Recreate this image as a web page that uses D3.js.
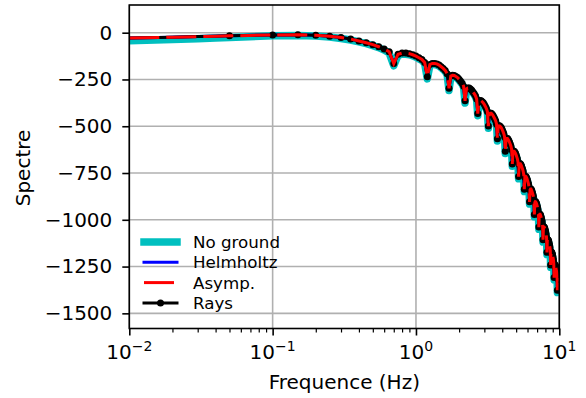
<!DOCTYPE html>
<html><head><meta charset="utf-8">
<script src="https://cdn.jsdelivr.net/npm/d3@7"></script>
<style>
body{margin:0;background:#fff}
svg{display:block}
text{font-family:"DejaVu Sans",sans-serif;fill:#000}
</style>
</head><body>
<svg id="chart" width="586" height="398"></svg>
<script>
const freq = [0.01,0.02,0.03,0.04,
0.05,0.10,0.15,0.20,0.25,0.30,0.35,0.40,0.45,0.50,
0.55,0.60,0.65,0.70,0.75,0.80,0.85,0.90,0.95,1.00,
1.05,1.10,1.15,1.20,1.25,1.30,1.35,1.40,1.45,1.50,
1.55,1.60,1.65,1.70,1.75,1.80,1.85,1.90,1.95,2.00,
2.05,2.10,2.15,2.20,2.25,2.30,2.35,2.40,2.45,2.50,
2.55,2.60,2.65,2.70,2.75,2.80,2.85,2.90,2.95,3.00,
3.05,3.10,3.15,3.20,3.25,3.30,3.35,3.40,3.45,3.50,
3.55,3.60,3.65,3.70,3.75,3.80,3.85,3.90,3.95,4.00,
4.05,4.10,4.15,4.20,4.25,4.30,4.35,4.40,4.45,4.50,
4.55,4.60,4.65,4.70,4.75,4.80,4.85,4.90,4.95,5.00,
5.05,5.10,5.15,5.20,5.25,5.30,5.35,5.40,5.45,5.50,
5.55,5.60,5.65,5.70,5.75,5.80,5.85,5.90,5.95,6.00,
6.05,6.10,6.15,6.20,6.25,6.30,6.35,6.40,6.45,6.50,
6.55,6.60,6.65,6.70,6.75,6.80,6.85,6.90,6.95,7.00,
7.05,7.10,7.15,7.20,7.25,7.30,7.35,7.40,7.45,7.50,
7.55,7.60,7.65,7.70,7.75,7.80,7.85,7.90,7.95,8.00,
8.05,8.10,8.15,8.20,8.25,8.30,8.35,8.40,8.45,8.50,
8.55,8.60,8.65,8.70,8.75,8.80,8.85,8.90,8.95,9.00,
9.05,9.10,9.15,9.20,9.25,9.30,9.35,9.40,9.45,9.50,
9.55,9.60,9.65,9.70,9.75,9.80,9.85,9.90,9.95,10.00];

const noGround = [-43,-37,-33,-29,
-26,-17,-15,-18,-23,-31,-39,-49,-59,-69,
-80,-93,-108,-177,-121,-115,-115,-118,-124,-131,
-140,-149,-165,-247,-176,-170,-170,-173,-179,-188,
-197,-208,-225,-309,-238,-234,-235,-240,-246,-255,
-265,-276,-292,-376,-306,-302,-302,-307,-314,-323,
-332,-343,-360,-444,-373,-369,-370,-375,-381,-390,
-400,-411,-427,-511,-441,-437,-437,-442,-449,-458,
-467,-478,-495,-579,-508,-504,-505,-510,-516,-525,
-535,-546,-562,-646,-576,-572,-572,-577,-584,-593,
-602,-613,-630,-714,-643,-639,-640,-645,-651,-660,
-670,-681,-697,-781,-711,-707,-707,-712,-719,-728,
-737,-748,-765,-849,-778,-774,-775,-780,-786,-795,
-805,-816,-832,-916,-846,-842,-842,-847,-854,-863,
-872,-883,-900,-984,-913,-909,-910,-915,-921,-930,
-940,-951,-967,-1051,-981,-977,-977,-982,-989,-998,
-1007,-1018,-1035,-1119,-1048,-1044,-1045,-1050,-1056,-1065,
-1075,-1086,-1102,-1186,-1116,-1112,-1112,-1117,-1124,-1133,
-1142,-1153,-1170,-1254,-1183,-1179,-1180,-1185,-1191,-1200,
-1210,-1221,-1237,-1321,-1251,-1247,-1247,-1252,-1259,-1268,
-1277,-1288,-1305,-1389,-1318,-1314,-1315,-1320,-1326,-1335];

const helmholtz = [-29,-24,-21,-19,
-17,-12,-11,-14,-19,-26,-34,-44,-54,-64,
-75,-87,-102,-165,-115,-109,-109,-112,-118,-125,
-134,-143,-159,-235,-170,-164,-164,-167,-173,-182,
-191,-202,-219,-297,-232,-228,-229,-234,-240,-249,
-259,-270,-286,-364,-300,-296,-296,-301,-308,-317,
-326,-337,-354,-432,-367,-363,-364,-369,-375,-384,
-394,-405,-421,-499,-435,-431,-431,-436,-443,-452,
-461,-472,-489,-567,-502,-498,-499,-504,-510,-519,
-529,-540,-556,-634,-570,-566,-566,-571,-578,-587,
-596,-607,-624,-702,-637,-633,-634,-639,-645,-654,
-664,-675,-691,-769,-705,-701,-701,-706,-713,-722,
-731,-742,-759,-837,-772,-768,-769,-774,-780,-789,
-799,-810,-826,-904,-840,-836,-836,-841,-848,-857,
-866,-877,-894,-972,-907,-903,-904,-909,-915,-924,
-934,-945,-961,-1039,-975,-971,-971,-976,-983,-992,
-1001,-1012,-1029,-1107,-1042,-1038,-1039,-1044,-1050,-1059,
-1069,-1080,-1096,-1174,-1110,-1106,-1106,-1111,-1118,-1127,
-1136,-1147,-1164,-1242,-1177,-1173,-1174,-1179,-1185,-1194,
-1204,-1215,-1231,-1309,-1245,-1241,-1241,-1246,-1253,-1262,
-1271,-1282,-1299,-1377,-1312,-1308,-1309,-1314,-1320,-1329];

const asymp = [-29,-24,-21,-19,
-17,-12,-11,-14,-19,-26,-34,-44,-54,-64,
-75,-87,-102,-165,-115,-109,-109,-112,-118,-125,
-134,-143,-159,-235,-170,-164,-164,-167,-173,-182,
-191,-202,-219,-297,-232,-228,-229,-234,-240,-249,
-259,-270,-286,-364,-300,-296,-296,-301,-308,-317,
-326,-337,-354,-432,-367,-363,-364,-369,-375,-384,
-394,-405,-421,-499,-435,-431,-431,-436,-443,-452,
-461,-472,-489,-567,-502,-498,-499,-504,-510,-519,
-529,-540,-556,-634,-570,-566,-566,-571,-578,-587,
-596,-607,-624,-702,-637,-633,-634,-639,-645,-654,
-664,-675,-691,-769,-705,-701,-701,-706,-713,-722,
-731,-742,-759,-837,-772,-768,-769,-774,-780,-789,
-799,-810,-826,-904,-840,-836,-836,-841,-848,-857,
-866,-877,-894,-972,-907,-903,-904,-909,-915,-924,
-934,-945,-961,-1039,-975,-971,-971,-976,-983,-992,
-1001,-1012,-1029,-1107,-1042,-1038,-1039,-1044,-1050,-1059,
-1069,-1080,-1096,-1174,-1110,-1106,-1106,-1111,-1118,-1127,
-1136,-1147,-1164,-1242,-1177,-1173,-1174,-1179,-1185,-1194,
-1204,-1215,-1231,-1309,-1245,-1241,-1241,-1246,-1253,-1262,
-1271,-1282,-1299,-1377,-1312,-1308,-1309,-1314,-1320,-1329];

const rays = [-29,-24,-21,-19,
-17,-12,-11,-14,-19,-26,-34,-44,-54,-64,
-75,-87,-102,-165,-115,-109,-109,-112,-118,-125,
-134,-143,-159,-235,-170,-164,-164,-167,-173,-182,
-191,-202,-219,-297,-232,-228,-229,-234,-240,-249,
-259,-270,-286,-364,-300,-296,-296,-301,-308,-317,
-326,-337,-354,-432,-367,-363,-364,-369,-375,-384,
-394,-405,-421,-499,-435,-431,-431,-436,-443,-452,
-461,-472,-489,-567,-502,-498,-499,-504,-510,-519,
-529,-540,-556,-634,-570,-566,-566,-571,-578,-587,
-596,-607,-624,-702,-637,-633,-634,-639,-645,-654,
-664,-675,-691,-769,-705,-701,-701,-706,-713,-722,
-731,-742,-759,-837,-772,-768,-769,-774,-780,-789,
-799,-810,-826,-904,-840,-836,-836,-841,-848,-857,
-866,-877,-894,-972,-907,-903,-904,-909,-915,-924,
-934,-945,-961,-1039,-975,-971,-971,-976,-983,-992,
-1001,-1012,-1029,-1107,-1042,-1038,-1039,-1044,-1050,-1059,
-1069,-1080,-1096,-1174,-1110,-1106,-1106,-1111,-1118,-1127,
-1136,-1147,-1164,-1242,-1177,-1173,-1174,-1179,-1185,-1194,
-1204,-1215,-1231,-1309,-1245,-1241,-1241,-1246,-1253,-1262,
-1271,-1282,-1299,-1377,-1312,-1308,-1309,-1314,-1320,-1329];
const raysMarkerStart = 0.05;

const yTicks = [0,-250,-500,-750,-1000,-1250,-1500];
const xTickValues = [0.01,0.1,1,10];
const xTickExponents = ["\u22122","\u22121","0","1"];
const xMinorTicks = [0.02,0.03,0.04,0.05,0.06,0.07,0.08,0.09,
  0.2,0.3,0.4,0.5,0.6,0.7,0.8,0.9,
  2,3,4,5,6,7,8,9];
const seriesNames = ["No ground","Helmholtz","Asymp.","Rays"];
const seriesColors = ["#00bfbf","#0000ff","#ff0000","#000000"];
const xLabel = "Frequence (Hz)";
const yLabel = "Spectre";

const L = 129.3, R = 559.3, T = 5, B = 328.5;
const svg = d3.select("#chart");
const x = d3.scaleLog().domain([0.01, 10]).range([L, R]);
const y = d3.scaleLinear().domain([-1581, 148]).range([B, T]);

svg.append("defs").append("clipPath").attr("id","clip")
  .append("rect").attr("x",L).attr("y",T).attr("width",R-L).attr("height",B-T);

// grid
const grid = svg.append("g");
grid.selectAll("line.gx").data(xTickValues).enter().append("line")
  .attr("x1",d=>x(d)).attr("x2",d=>x(d)).attr("y1",T).attr("y2",B)
  .attr("stroke","#b0b0b0").attr("stroke-width",1.6);
grid.selectAll("line.gy").data(yTicks).enter().append("line")
  .attr("x1",L).attr("x2",R).attr("y1",d=>y(d)).attr("y2",d=>y(d))
  .attr("stroke","#b0b0b0").attr("stroke-width",1.6);

const plot = svg.append("g").attr("clip-path","url(#clip)");
const lineGen = vals => d3.line().x((d,i)=>x(freq[i])).y((d,i)=>y(vals[i]))(vals);

plot.append("path").attr("d",lineGen(noGround)).attr("fill","none")
  .attr("stroke",seriesColors[0]).attr("stroke-width",7.5).attr("stroke-linejoin","round");
plot.append("path").attr("d",lineGen(helmholtz)).attr("fill","none")
  .attr("stroke",seriesColors[1]).attr("stroke-width",3).attr("stroke-linejoin","round");
plot.append("path").attr("d",lineGen(rays)).attr("fill","none")
  .attr("stroke",seriesColors[3]).attr("stroke-width",3).attr("stroke-linejoin","round");
plot.selectAll("circle.ray").data(freq.map((f,i)=>({f,v:rays[i]})).filter(d=>d.f>=raysMarkerStart))
  .enter().append("circle").attr("cx",d=>x(d.f)).attr("cy",d=>y(d.v)).attr("r",3.5).attr("fill","#000");
plot.append("path").attr("d",lineGen(asymp)).attr("fill","none")
  .attr("stroke",seriesColors[2]).attr("stroke-width",3).attr("stroke-dasharray","30,7");

// axes
const yAxis = d3.axisLeft(y).tickValues(yTicks).tickSize(7).tickPadding(10).tickSizeOuter(0)
  .tickFormat(d3.format("d"));
const gy = svg.append("g").attr("transform",`translate(${L},0)`).call(yAxis);
gy.select(".domain").remove();
gy.selectAll(".tick line").attr("stroke","#000").attr("stroke-width",1.6);
gy.selectAll(".tick text").attr("font-size",20).attr("font-family","DejaVu Sans").attr("fill","#000");

const xAxis = d3.axisBottom(x).tickValues(xTickValues).tickSize(7).tickSizeOuter(0).tickFormat("");
const gx = svg.append("g").attr("transform",`translate(0,${B})`).call(xAxis);
gx.select(".domain").remove();
gx.selectAll(".tick line").attr("stroke","#000").attr("stroke-width",1.6);
const xMinor = d3.axisBottom(x).tickValues(xMinorTicks).tickSize(4).tickSizeOuter(0).tickFormat("");
const gxm = svg.append("g").attr("transform",`translate(0,${B})`).call(xMinor);
gxm.select(".domain").remove();
gxm.selectAll(".tick line").attr("stroke","#000").attr("stroke-width",1.2);

xTickValues.forEach((v,i)=>{
  const t = svg.append("text").attr("x",x(v)).attr("y",359).attr("text-anchor","middle").attr("font-size",20);
  t.append("tspan").text("10");
  t.append("tspan").attr("font-size",14).attr("dy",-8).text(xTickExponents[i]);
});

// spines
svg.append("rect").attr("x",L).attr("y",T).attr("width",R-L).attr("height",B-T)
  .attr("fill","none").attr("stroke","#000").attr("stroke-width",1.6);

// labels
svg.append("text").attr("x",(L+R)/2).attr("y",389).attr("text-anchor","middle")
  .attr("font-size",20).text(xLabel);
svg.append("text").attr("transform","translate(30,168) rotate(-90)").attr("text-anchor","middle")
  .attr("font-size",20).text(yLabel);

// legend
const lg = svg.append("g");
const rowY = [242,262.3,282.6,303];
seriesNames.forEach((name,i)=>{
  const yy = rowY[i];
  const ln = lg.append("line").attr("x1",144).attr("x2",177).attr("y1",yy).attr("y2",yy)
    .attr("stroke",seriesColors[i]);
  if(i===0) ln.attr("stroke-width",7.5).attr("stroke-linecap","square");
  else if(i===2) ln.attr("stroke-width",3).attr("stroke-dasharray","30,7");
  else ln.attr("stroke-width",3).attr("stroke-linecap","square");
  if(i===3) lg.append("circle").attr("cx",160.5).attr("cy",yy).attr("r",3.5).attr("fill","#000");
  lg.append("text").attr("x",193).attr("y",yy).attr("dy","0.36em").attr("font-size",16.7).text(name);
});
</script>
</body></html>
